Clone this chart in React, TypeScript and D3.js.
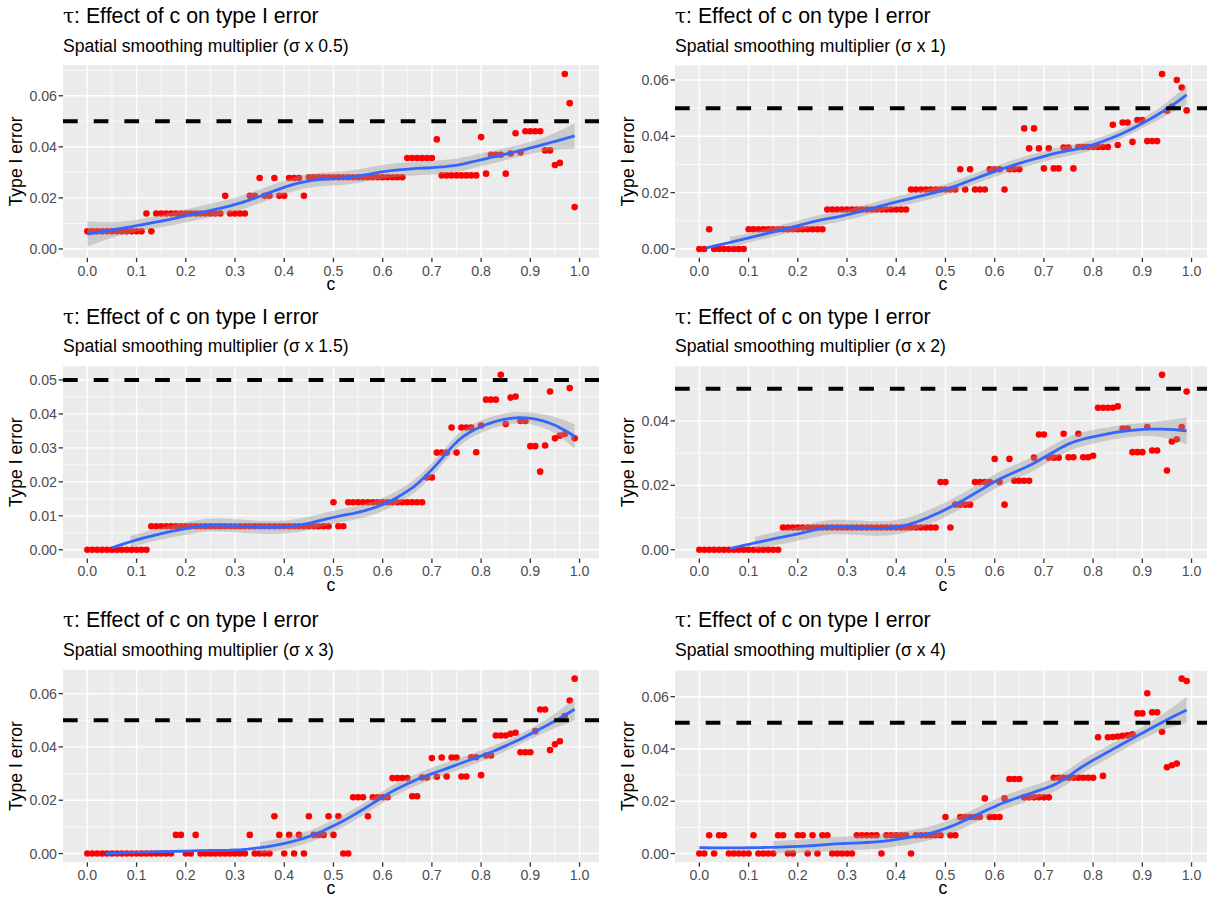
import React, { useMemo } from "react";
import * as d3 from "d3";

// ---------------- DATA ----------------
const C_VALUES = [
  0.00, 0.01, 0.02, 0.03, 0.04, 0.05, 0.06, 0.07, 0.08, 0.09,
  0.10, 0.11, 0.12, 0.13, 0.14, 0.15, 0.16, 0.17, 0.18, 0.19,
  0.20, 0.21, 0.22, 0.23, 0.24, 0.25, 0.26, 0.27, 0.28, 0.29,
  0.30, 0.31, 0.32, 0.33, 0.34, 0.35, 0.36, 0.37, 0.38, 0.39,
  0.40, 0.41, 0.42, 0.43, 0.44, 0.45, 0.46, 0.47, 0.48, 0.49,
  0.50, 0.51, 0.52, 0.53, 0.54, 0.55, 0.56, 0.57, 0.58, 0.59,
  0.60, 0.61, 0.62, 0.63, 0.64, 0.65, 0.66, 0.67, 0.68, 0.69,
  0.70, 0.71, 0.72, 0.73, 0.74, 0.75, 0.76, 0.77, 0.78, 0.79,
  0.80, 0.81, 0.82, 0.83, 0.84, 0.85, 0.86, 0.87, 0.88, 0.89,
  0.90, 0.91, 0.92, 0.93, 0.94, 0.95, 0.96, 0.97, 0.98, 0.99,
];

const ERR_SIGMA_05 = [
  0.0069, 0.0069, 0.0069, 0.0069, 0.0069, 0.0069, 0.0069, 0.0069, 0.0069, 0.0069,
  0.0069, 0.0069, 0.0139, 0.0069, 0.0139, 0.0139, 0.0139, 0.0139, 0.0139, 0.0139,
  0.0139, 0.0139, 0.0139, 0.0139, 0.0139, 0.0139, 0.0139, 0.0139, 0.0208, 0.0139,
  0.0139, 0.0139, 0.0139, 0.0208, 0.0208, 0.0278, 0.0208, 0.0208, 0.0278, 0.0208,
  0.0208, 0.0278, 0.0278, 0.0278, 0.0208, 0.0281, 0.0281, 0.0281, 0.0281, 0.0281,
  0.0281, 0.0281, 0.0281, 0.0281, 0.0281, 0.0281, 0.0281, 0.0281, 0.0281, 0.0281,
  0.0281, 0.0281, 0.0281, 0.0281, 0.0281, 0.0356, 0.0356, 0.0356, 0.0356, 0.0356,
  0.0356, 0.0429, 0.0288, 0.0288, 0.0288, 0.0288, 0.0288, 0.0288, 0.0288, 0.0288,
  0.0438, 0.0295, 0.0369, 0.0369, 0.0369, 0.0295, 0.0374, 0.0453, 0.0378, 0.0461,
  0.0461, 0.0461, 0.0461, 0.0386, 0.0386, 0.0329, 0.0337, 0.0685, 0.0571, 0.0164,
];

const ERR_SIGMA_1 = [
  0, 0, 0.0070, 0, 0, 0, 0, 0, 0, 0,
  0.0070, 0.0070, 0.0070, 0.0070, 0.0070, 0.0070, 0.0070, 0.0070, 0.0070, 0.0070,
  0.0070, 0.0070, 0.0070, 0.0070, 0.0070, 0.0070, 0.0140, 0.0140, 0.0140, 0.0140,
  0.0140, 0.0140, 0.0140, 0.0140, 0.0140, 0.0140, 0.0140, 0.0140, 0.0140, 0.0140,
  0.0140, 0.0140, 0.0140, 0.0211, 0.0211, 0.0211, 0.0211, 0.0211, 0.0211, 0.0211,
  0.0211, 0.0211, 0.0211, 0.0283, 0.0211, 0.0283, 0.0211, 0.0211, 0.0211, 0.0283,
  0.0283, 0.0283, 0.0211, 0.0283, 0.0283, 0.0283, 0.0428, 0.0357, 0.0428, 0.0357,
  0.0286, 0.0357, 0.0286, 0.0286, 0.0360, 0.0360, 0.0286, 0.0362, 0.0362, 0.0362,
  0.0362, 0.0362, 0.0362, 0.0362, 0.0441, 0.0369, 0.0449, 0.0449, 0.0380, 0.0458,
  0.0458, 0.0383, 0.0383, 0.0383, 0.0621, 0.0491, 0.0505, 0.0600, 0.0573, 0.0492,
];

const ERR_SIGMA_15 = [
  0, 0, 0, 0, 0, 0, 0, 0, 0, 0,
  0, 0, 0, 0.0069, 0.0069, 0.0069, 0.0069, 0.0069, 0.0069, 0.0069,
  0.0069, 0.0069, 0.0069, 0.0069, 0.0069, 0.0069, 0.0069, 0.0069, 0.0069, 0.0069,
  0.0069, 0.0069, 0.0069, 0.0069, 0.0069, 0.0069, 0.0069, 0.0069, 0.0069, 0.0069,
  0.0069, 0.0069, 0.0069, 0.0069, 0.0069, 0.0069, 0.0069, 0.0069, 0.0069, 0.0069,
  0.0140, 0.0069, 0.0069, 0.0140, 0.0140, 0.0140, 0.0140, 0.0140, 0.0140, 0.0140,
  0.0140, 0.0140, 0.0140, 0.0140, 0.0140, 0.0140, 0.0140, 0.0140, 0.0140, 0.0213,
  0.0213, 0.0286, 0.0286, 0.0286, 0.0360, 0.0286, 0.0360, 0.0360, 0.0360, 0.0287,
  0.0366, 0.0442, 0.0442, 0.0442, 0.0515, 0.0370, 0.0448, 0.0451, 0.0379, 0.0379,
  0.0305, 0.0305, 0.0230, 0.0307, 0.0466, 0.0328, 0.0336, 0.0341, 0.0476, 0.0328,
];

const ERR_SIGMA_2 = [
  0, 0, 0, 0, 0, 0, 0, 0, 0, 0,
  0, 0, 0, 0, 0, 0, 0, 0.0069, 0.0069, 0.0069,
  0.0069, 0.0069, 0.0069, 0.0069, 0.0069, 0.0069, 0.0069, 0.0069, 0.0069, 0.0069,
  0.0069, 0.0069, 0.0069, 0.0069, 0.0069, 0.0069, 0.0069, 0.0069, 0.0069, 0.0069,
  0.0069, 0.0069, 0.0069, 0.0069, 0.0069, 0.0069, 0.0069, 0.0069, 0.0069, 0.0210,
  0.0210, 0.0069, 0.0140, 0.0140, 0.0140, 0.0140, 0.0210, 0.0210, 0.0210, 0.0210,
  0.0282, 0.0210, 0.0140, 0.0282, 0.0214, 0.0214, 0.0214, 0.0214, 0.0286, 0.0358,
  0.0358, 0.0286, 0.0286, 0.0286, 0.0360, 0.0287, 0.0287, 0.0360, 0.0287, 0.0287,
  0.0292, 0.0441, 0.0441, 0.0441, 0.0441, 0.0445, 0.0376, 0.0376, 0.0303, 0.0303,
  0.0303, 0.0381, 0.0308, 0.0308, 0.0543, 0.0246, 0.0336, 0.0343, 0.0381, 0.0491,
];

const ERR_SIGMA_3 = [
  0, 0, 0, 0, 0, 0, 0, 0, 0, 0,
  0, 0, 0, 0, 0, 0, 0, 0, 0.0070, 0.0070,
  0, 0, 0.0070, 0, 0, 0, 0, 0, 0, 0,
  0, 0, 0, 0.0070, 0, 0, 0, 0, 0.0140, 0.0070,
  0, 0.0070, 0, 0.0070, 0, 0.0140, 0.0070, 0.0070, 0.0070, 0.0140,
  0.0070, 0.0140, 0, 0, 0.0211, 0.0211, 0.0211, 0.0140, 0.0211, 0.0211,
  0.0211, 0.0211, 0.0283, 0.0283, 0.0283, 0.0283, 0.0215, 0.0215, 0.0285, 0.0285,
  0.0358, 0.0288, 0.0360, 0.0289, 0.0360, 0.0360, 0.0289, 0.0289, 0.0361, 0.0361,
  0.0294, 0.0368, 0.0368, 0.0443, 0.0443, 0.0443, 0.0449, 0.0453, 0.0380, 0.0380,
  0.0380, 0.0459, 0.0540, 0.0540, 0.0388, 0.0410, 0.0421, 0.0516, 0.0574, 0.0656,
];

const ERR_SIGMA_4 = [
  0, 0, 0.0070, 0, 0.0070, 0.0070, 0, 0, 0, 0,
  0, 0.0070, 0, 0, 0, 0, 0.0070, 0.0070, 0, 0,
  0.0070, 0.0070, 0, 0.0070, 0, 0.0070, 0.0070, 0, 0, 0,
  0, 0, 0.0070, 0.0070, 0.0070, 0.0070, 0.0070, 0, 0.0070, 0.0070,
  0.0070, 0.0070, 0.0070, 0, 0.0070, 0.0070, 0.0070, 0.0070, 0.0070, 0.0070,
  0.0140, 0.0070, 0.0070, 0.0140, 0.0140, 0.0140, 0.0140, 0.0140, 0.0211, 0.0140,
  0.0140, 0.0140, 0.0211, 0.0285, 0.0285, 0.0285, 0.0215, 0.0215, 0.0215, 0.0215,
  0.0215, 0.0215, 0.0290, 0.0290, 0.0290, 0.0290, 0.0290, 0.0290, 0.0290, 0.0290,
  0.0290, 0.0445, 0.0297, 0.0445, 0.0446, 0.0448, 0.0450, 0.0452, 0.0456, 0.0536,
  0.0536, 0.0613, 0.0540, 0.0540, 0.0466, 0.0330, 0.0338, 0.0344, 0.0669, 0.0660,
];

const SUBTITLES = [
  "Spatial smoothing multiplier (σ x 0.5)",
  "Spatial smoothing multiplier (σ x 1)",
  "Spatial smoothing multiplier (σ x 1.5)",
  "Spatial smoothing multiplier (σ x 2)",
  "Spatial smoothing multiplier (σ x 3)",
  "Spatial smoothing multiplier (σ x 4)",
];
const SERIES = [ERR_SIGMA_05, ERR_SIGMA_1, ERR_SIGMA_15, ERR_SIGMA_2, ERR_SIGMA_3, ERR_SIGMA_4];

const X_TICKS = [0, 0.1, 0.2, 0.3, 0.4, 0.5, 0.6, 0.7, 0.8, 0.9, 1.0];
const Y_TICKS_A = [0, 0.02, 0.04, 0.06];
const Y_TICKS_B = [0, 0.01, 0.02, 0.03, 0.04, 0.05];
const Y_TICKS_C = [0, 0.02, 0.04];
const Y_TICKS = [Y_TICKS_A, Y_TICKS_A, Y_TICKS_B, Y_TICKS_C, Y_TICKS_A, Y_TICKS_A];
const THRESHOLD = 0.05;
const LOESS_SPAN = 0.5;

// ---------------- LOESS (as ggplot2 geom_smooth / stats::loess) ----------------
function loessRow(xs: number[], x0: number, span: number): number[] {
  const n = xs.length;
  const q = Math.floor(n * span);
  const d = xs.map((x) => Math.abs(x - x0));
  const sorted = d.slice().sort((a, b) => a - b);
  const h = sorted[q - 1] * Math.max(1, span);
  const w = d.map((di) => {
    const u = di / h;
    return u < 1 ? Math.pow(1 - u * u * u, 3) : 0;
  });
  const M = [
    [0, 0, 0],
    [0, 0, 0],
    [0, 0, 0],
  ];
  for (let i = 0; i < n; i++) {
    const t = xs[i] - x0;
    const v = [1, t, t * t];
    for (let a = 0; a < 3; a++) for (let b = 0; b < 3; b++) M[a][b] += w[i] * v[a] * v[b];
  }
  const A = M.map((r, i) => [...r, i === 0 ? 1 : 0]);
  for (let c = 0; c < 3; c++) {
    let p = c;
    for (let r = c + 1; r < 3; r++) if (Math.abs(A[r][c]) > Math.abs(A[p][c])) p = r;
    [A[c], A[p]] = [A[p], A[c]];
    for (let r = 0; r < 3; r++) {
      if (r === c) continue;
      const f = A[r][c] / A[c][c];
      for (let k = c; k < 4; k++) A[r][k] -= f * A[c][k];
    }
  }
  const coef = [A[0][3] / A[0][0], A[1][3] / A[1][1], A[2][3] / A[2][2]];
  return xs.map((x, i) => {
    const t = x - x0;
    return w[i] * (coef[0] + coef[1] * t + coef[2] * t * t);
  });
}

function qt975(df: number): number {
  const z = 1.959963985;
  const g1 = (Math.pow(z, 3) + z) / 4;
  const g2 = (5 * Math.pow(z, 5) + 16 * Math.pow(z, 3) + 3 * z) / 96;
  const g3 = (3 * Math.pow(z, 7) + 19 * Math.pow(z, 5) + 17 * Math.pow(z, 3) - 15 * z) / 384;
  return z + g1 / df + g2 / (df * df) + g3 / (df * df * df);
}

type SmoothPt = { x: number; y: number; lo: number; hi: number };

function loessSmooth(xs: number[], ys: number[], span: number, nEval = 80): SmoothPt[] {
  const n = xs.length;
  const L = xs.map((x0) => loessRow(xs, x0, span));
  const fitted = L.map((row) => row.reduce((s, l, j) => s + l * ys[j], 0));
  const rss = ys.reduce((s, y, i) => s + (y - fitted[i]) ** 2, 0);
  const B = L.map((row, i) => row.map((l, j) => (i === j ? 1 : 0) - l));
  let one = 0;
  let two = 0;
  for (let i = 0; i < n; i++) {
    for (let j = 0; j < n; j++) {
      let s = 0;
      for (let k = 0; k < n; k++) s += B[k][i] * B[k][j];
      if (i === j) one += s;
      two += s * s;
    }
  }
  const sigma = Math.sqrt(rss / one);
  const df = (one * one) / two;
  const t = qt975(df);
  const [xmin, xmax] = d3.extent(xs) as [number, number];
  return d3.range(nEval).map((k) => {
    const x0 = xmin + ((xmax - xmin) * k) / (nEval - 1);
    const row = loessRow(xs, x0, span);
    const fit = row.reduce((s, l, j) => s + l * ys[j], 0);
    const se = sigma * Math.sqrt(row.reduce((s, l) => s + l * l, 0));
    return { x: x0, y: fit, lo: fit - t * se, hi: fit + t * se };
  });
}

function runs<T>(arr: T[], keep: (d: T) => boolean): T[][] {
  const out: T[][] = [];
  let cur: T[] = [];
  arr.forEach((d) => {
    if (keep(d)) cur.push(d);
    else {
      if (cur.length) out.push(cur);
      cur = [];
    }
  });
  if (cur.length) out.push(cur);
  return out;
}

function minorBreaks(major: number[], lo: number, hi: number): number[] {
  const step = major[1] - major[0];
  const ext = [major[0] - step, ...major, major[major.length - 1] + step];
  const res: number[] = [];
  for (let i = 0; i < ext.length - 1; i++) {
    const m = (ext[i] + ext[i + 1]) / 2;
    if (m >= lo && m <= hi) res.push(m);
  }
  return res;
}

// ---------------- LAYOUT ----------------
const W = 1207;
const H = 903;
const COL_LEFT = [63, 675];
const ROW_TOP = [65.3, 366.1, 669.9];
const PW = 536;
const PH = 192.4;
const FONT = "'Liberation Sans', Arial, Helvetica, sans-serif";

function Panel({ idx }: { idx: number }) {
  const col = idx % 2;
  const row = Math.floor(idx / 2);
  const left = COL_LEFT[col];
  const top = ROW_TOP[row];
  const bottom = top + PH;
  const right = left + PW;
  const ys = SERIES[idx];

  const smooth = useMemo(() => loessSmooth(C_VALUES, ys, LOESS_SPAN), [idx]);

  const [xMin, xMax] = d3.extent(C_VALUES) as [number, number];
  const xr = xMax - xMin;
  const x = d3.scaleLinear().domain([xMin - 0.05 * xr, xMax + 0.05 * xr]).range([left, right]);
  const yLow = 0;
  const yTop = Math.max(
    d3.max(ys) as number,
    THRESHOLD,
    d3.max(smooth.filter((d) => d.lo >= yLow), (d) => d.hi) ?? 0
  );
  const yr = yTop - yLow;
  const yDom: [number, number] = [yLow - 0.05 * yr, yTop + 0.05 * yr];
  const y = d3.scaleLinear().domain(yDom).range([bottom, top]);

  const yMajor = Y_TICKS[idx];
  const yMinor = minorBreaks(yMajor, yDom[0], yDom[1]);
  const xMinor = minorBreaks(X_TICKS, x.domain()[0], x.domain()[1]);

  const area = d3
    .area<SmoothPt>()
    .x((d) => x(d.x))
    .y0((d) => y(d.lo))
    .y1((d) => y(d.hi));
  const line = d3
    .line<SmoothPt>()
    .x((d) => x(d.x))
    .y((d) => y(d.y));

  const ribbonRuns = runs(smooth, (d) => d.lo >= yLow);
  const lineRuns = runs(smooth, (d) => d.y >= yLow);
  const clipId = `clip-${idx}`;
  const fmtY = d3.format(".2f");
  const fmtX = d3.format(".1f");

  return (
    <g>
      <defs>
        <clipPath id={clipId}>
          <rect x={left} y={top} width={PW} height={PH} />
        </clipPath>
      </defs>
      <text x={left} y={top - 42.5} fontSize={21.3} fill="#000">
        <tspan fontFamily="'DejaVu Serif', 'Liberation Serif', serif" fontSize={20}>τ</tspan>
        <tspan>: Effect of c on type I error</tspan>
      </text>
      <text x={left} y={top - 13.8} fontSize={17.6} fill="#000">
        {SUBTITLES[idx]}
      </text>
      <rect x={left} y={top} width={PW} height={PH} fill="#EBEBEB" />
      {yMinor.map((v) => (
        <line key={`ym${v}`} x1={left} x2={right} y1={y(v)} y2={y(v)} stroke="#fff" strokeWidth={0.7} />
      ))}
      {xMinor.map((v) => (
        <line key={`xm${v}`} x1={x(v)} x2={x(v)} y1={top} y2={bottom} stroke="#fff" strokeWidth={0.7} />
      ))}
      {yMajor.map((v) => (
        <line key={`yM${v}`} x1={left} x2={right} y1={y(v)} y2={y(v)} stroke="#fff" strokeWidth={1.4} />
      ))}
      {X_TICKS.map((v) => (
        <line key={`xM${v}`} x1={x(v)} x2={x(v)} y1={top} y2={bottom} stroke="#fff" strokeWidth={1.4} />
      ))}
      <g clipPath={`url(#${clipId})`}>
        {C_VALUES.map((c, i) => (
          <circle key={i} cx={x(c)} cy={y(ys[i])} r={3.3} fill="#FF0000" />
        ))}
        {ribbonRuns.map((r, i) => (
          <path key={`rb${i}`} d={area(r) || ""} fill="#999999" fillOpacity={0.4} />
        ))}
        {lineRuns.map((r, i) => (
          <path key={`ln${i}`} d={line(r) || ""} fill="none" stroke="#3366FF" strokeWidth={2.8} />
        ))}
        <line
          x1={left}
          x2={right}
          y1={y(THRESHOLD)}
          y2={y(THRESHOLD)}
          stroke="#000"
          strokeWidth={4}
          strokeDasharray="14.7 16"
        />
      </g>
      {X_TICKS.map((v) => (
        <g key={`xt${v}`}>
          <line x1={x(v)} x2={x(v)} y1={bottom} y2={bottom + 4.4} stroke="#333333" strokeWidth={1.3} />
          <text x={x(v)} y={bottom + 17.8} fontSize={14.2} fill="#4D4D4D" textAnchor="middle">
            {fmtX(v)}
          </text>
        </g>
      ))}
      {yMajor.map((v) => (
        <g key={`yt${v}`}>
          <line x1={left - 4.4} x2={left} y1={y(v)} y2={y(v)} stroke="#333333" strokeWidth={1.3} />
          <text x={left - 6} y={y(v) + 5.1} fontSize={14.2} fill="#4D4D4D" textAnchor="end">
            {fmtY(v)}
          </text>
        </g>
      ))}
      <text x={(left + right) / 2} y={bottom + 32} fontSize={17.6} fill="#000" textAnchor="middle">
        c
      </text>
      <text
        transform={`translate(${left - 41.5},${(top + bottom) / 2}) rotate(-90)`}
        fontSize={17.6}
        fill="#000"
        textAnchor="middle"
      >
        Type I error
      </text>
    </g>
  );
}

export default function App() {
  return (
    <svg
      width={W}
      height={H}
      viewBox={`0 0 ${W} ${H}`}
      style={{ position: "absolute", left: 0, top: 0, display: "block" }}
      fontFamily={FONT}
    >
      <rect x={0} y={0} width={W} height={H} fill="#FFFFFF" />
      {SERIES.map((_, i) => (
        <Panel key={i} idx={i} />
      ))}
    </svg>
  );
}
